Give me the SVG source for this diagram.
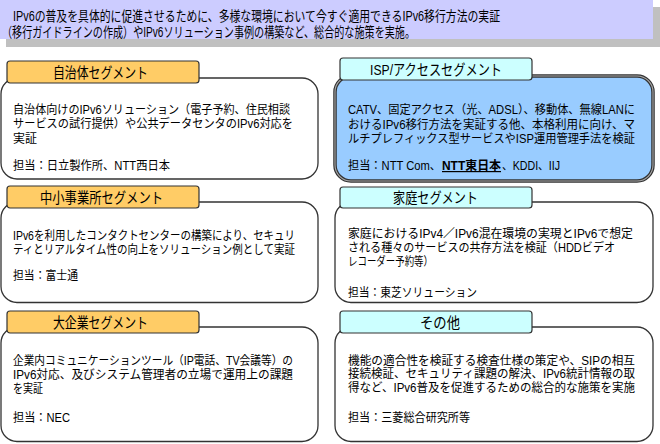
<svg xmlns="http://www.w3.org/2000/svg" width="660" height="444" viewBox="0 0 660 444">
<style>
text{font-family:"Liberation Sans","Noto Sans CJK JP",sans-serif;fill:#000;}
.b{font-size:14px;}
.t{font-size:15px;}
.x{font-size:12px;}
.body{fill:#fff;stroke:#333;stroke-width:1.3;}
.tabO{fill:#FFCC66;stroke:#333;stroke-width:1.2;}
.tabC{fill:#CCFFFF;stroke:#333;stroke-width:1.2;}
</style>
<rect width="660" height="444" fill="#fff"/>
<g id="banner">
<rect x="6" y="7" width="654" height="40" fill="#C0C0C0"/>
<rect x="0" y="0" width="653" height="39" fill="#CCCCFF"/>
<text class="b" x="13" y="21" textLength="487" lengthAdjust="spacingAndGlyphs">IPv6の普及を具体的に促進させるために、多様な環境において今すぐ適用できるIPv6移行方法の実証</text>
<text class="b" x="2" y="37" textLength="413" lengthAdjust="spacingAndGlyphs">（移行ガイドラインの作成）やIPv6ソリューション事例の構築など、総合的な施策を実施。</text>
</g>
<g id="connectors"></g>
<g id="jichitai">
<rect class="body" x="1" y="78" width="317" height="101" rx="16"/>
<rect class="tabO" x="7" y="61" width="192" height="22" rx="3"/>
<text class="t" x="53" y="77.5" textLength="95" lengthAdjust="spacingAndGlyphs">自治体セグメント</text>
<text class="x" x="13" y="113.5" textLength="277" lengthAdjust="spacingAndGlyphs">自治体向けのIPv6ソリューション（電子予約、住民相談</text>
<text class="x" x="13" y="128" textLength="280" lengthAdjust="spacingAndGlyphs">サービスの試行提供）や公共データセンタのIPv6対応を</text>
<text class="x" x="13" y="142.5" textLength="24" lengthAdjust="spacingAndGlyphs">実証</text>
<text class="x" x="13" y="170" textLength="157" lengthAdjust="spacingAndGlyphs">担当：日立製作所、NTT西日本</text>
</g>
<g id="chusho">
<rect class="body" x="1" y="202" width="317" height="100.5" rx="16"/>
<rect class="tabO" x="7" y="186" width="192" height="22" rx="3"/>
<text class="t" x="40" y="202.5" textLength="123" lengthAdjust="spacingAndGlyphs">中小事業所セグメント</text>
<text class="x" x="13" y="239.5" textLength="282" lengthAdjust="spacingAndGlyphs">IPv6を利用したコンタクトセンターの構築により、セキュリ</text>
<text class="x" x="13" y="253.5" textLength="282" lengthAdjust="spacingAndGlyphs">ティとリアルタイム性の向上をソリューション例として実証</text>
<text class="x" x="13" y="279.5" textLength="65" lengthAdjust="spacingAndGlyphs">担当：富士通</text>
</g>
<g id="daikigyo">
<rect class="body" x="1" y="327" width="317" height="114.5" rx="16"/>
<rect class="tabO" x="7" y="311" width="192" height="22" rx="3"/>
<text class="t" x="53" y="327.5" textLength="95" lengthAdjust="spacingAndGlyphs">大企業セグメント</text>
<text class="x" x="13" y="364.5" textLength="280" lengthAdjust="spacingAndGlyphs">企業内コミュニケーションツール（IP電話、TV会議等）の</text>
<text class="x" x="13" y="378.5" textLength="280" lengthAdjust="spacingAndGlyphs">IPv6対応、及びシステム管理者の立場で運用上の課題</text>
<text class="x" x="13" y="392.5" textLength="30" lengthAdjust="spacingAndGlyphs">を実証</text>
<text class="x" x="13" y="421.5" textLength="57" lengthAdjust="spacingAndGlyphs">担当：NEC</text>
</g>
<g id="isp">
<rect x="335" y="76" width="318" height="105" rx="16" fill="#99CCFF" stroke="#333" stroke-width="3.5"/>
<rect x="335" y="76" width="318" height="105" rx="16" fill="none" stroke="#aaa" stroke-width="1.1"/>
<rect class="tabC" x="340" y="58" width="192" height="22" rx="3"/>
<text class="t" x="370" y="74.5" textLength="132" lengthAdjust="spacingAndGlyphs">ISP/アクセスセグメント</text>
<text class="x" x="348" y="114" textLength="287" lengthAdjust="spacingAndGlyphs">CATV、固定アクセス（光、ADSL）、移動体、無線LANに</text>
<text class="x" x="348" y="128.5" textLength="287" lengthAdjust="spacingAndGlyphs">おけるIPv6移行方法を実証する他、本格利用に向け、マ</text>
<text class="x" x="348" y="143" textLength="287" lengthAdjust="spacingAndGlyphs">ルチプレフィックス型サービスやISP運用管理手法を検証</text>
<text class="x" x="348" y="170" textLength="93" lengthAdjust="spacingAndGlyphs">担当：NTT Com、</text>
<text class="x" x="442" y="170" textLength="59" lengthAdjust="spacingAndGlyphs" font-weight="bold" text-decoration="underline">NTT東日本</text>
<text class="x" x="502" y="170" textLength="58" lengthAdjust="spacingAndGlyphs">、KDDI、IIJ</text>
</g>
<g id="katei">
<rect class="body" x="335" y="202" width="318" height="100.5" rx="16"/>
<rect class="tabC" x="340" y="187" width="192" height="21" rx="3"/>
<text class="t" x="393" y="203" textLength="85" lengthAdjust="spacingAndGlyphs">家庭セグメント</text>
<text class="x" x="348" y="237.5" textLength="285" lengthAdjust="spacingAndGlyphs">家庭におけるIPv4／IPv6混在環境の実現とIPv6で想定</text>
<text class="x" x="348" y="252" textLength="267" lengthAdjust="spacingAndGlyphs">される種々のサービスの共存方法を検証（HDDビデオ</text>
<text class="x" x="348" y="266" textLength="85" lengthAdjust="spacingAndGlyphs">レコーダー予約等）</text>
<text class="x" x="348" y="296.5" textLength="129" lengthAdjust="spacingAndGlyphs">担当：東芝ソリューション</text>
</g>
<g id="sonota">
<rect class="body" x="335" y="327" width="318" height="114.5" rx="16"/>
<rect class="tabC" x="340" y="311" width="192" height="22" rx="3"/>
<text class="t" x="420" y="327.5" textLength="40" lengthAdjust="spacingAndGlyphs">その他</text>
<text class="x" x="348" y="364.5" textLength="287" lengthAdjust="spacingAndGlyphs">機能の適合性を検証する検査仕様の策定や、SIPの相互</text>
<text class="x" x="348" y="378" textLength="287" lengthAdjust="spacingAndGlyphs">接続検証、セキュリティ課題の解決、IPv6統計情報の取</text>
<text class="x" x="348" y="392" textLength="287" lengthAdjust="spacingAndGlyphs">得など、IPv6普及を促進するための総合的な施策を実施</text>
<text class="x" x="348" y="421.5" textLength="122" lengthAdjust="spacingAndGlyphs">担当：三菱総合研究所等</text>
</g>
</svg>
